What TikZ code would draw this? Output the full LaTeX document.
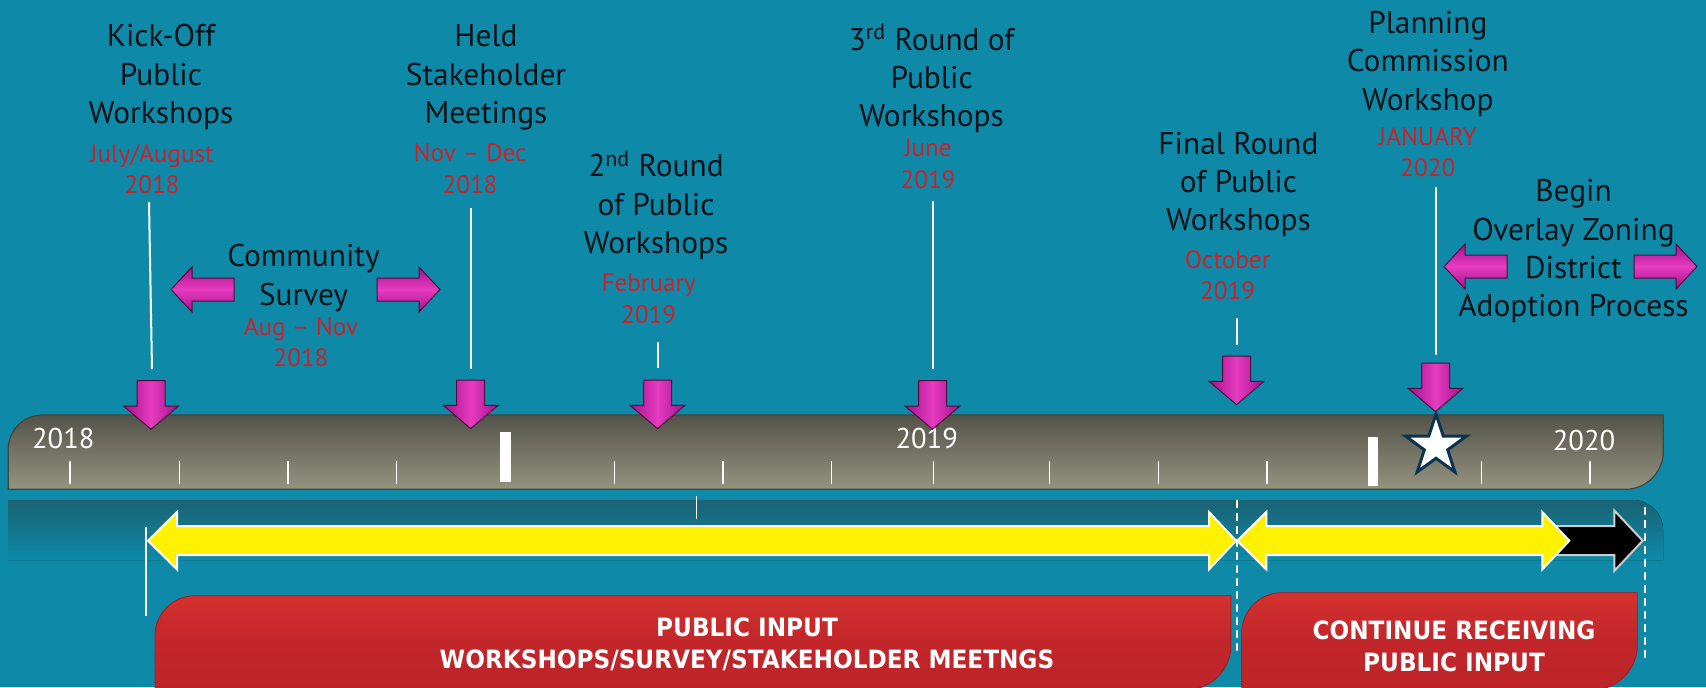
\documentclass[tikz,border=0pt]{standalone}
\usepackage{fontspec}
\setmainfont{PT Sans}
\newfontfamily\phasefont{DejaVu Sans}[FakeStretch=0.92]
\usetikzlibrary{shapes.geometric}

\definecolor{bg}{HTML}{0E8AA8}
\definecolor{titleink}{HTML}{0A1418}
\definecolor{dateink}{HTML}{C8232C}
\definecolor{barTop}{HTML}{54534A}
\definecolor{barBot}{HTML}{959480}
\definecolor{barEdge}{HTML}{44443A}
\definecolor{bandTop}{HTML}{1A6273}
\definecolor{magDark}{HTML}{A3118A}
\definecolor{magLight}{HTML}{E63CC0}
\definecolor{magEdge}{HTML}{4A0E3E}
\definecolor{phaseTop}{HTML}{D2312F}
\definecolor{phaseMid}{HTML}{C2262A}
\definecolor{phaseBot}{HTML}{BD2327}
\definecolor{phaseEdge}{HTML}{9A1E22}
\definecolor{starEdge}{HTML}{0C3350}

\newcommand{\stacked}[1]{\begin{tabular}[t]{@{}c@{}}#1\end{tabular}}
\newcommand{\spanarrow}[3][]{%
  \draw[spanarrow,#1] (#2,540.7) -- (#2+29,512) -- (#2+29,526.2) -- (#3-27,526.2) -- (#3-27,512)
    -- (#3,540.7) -- (#3-27,569.4) -- (#3-27,555.2) -- (#2+29,555.2) -- (#2+29,569.4) -- cycle;}

\begin{document}
\begin{tikzpicture}[x=0.5pt, y=-0.5pt]
    \tikzset{
        title/.style = {font=\fontsize{15.7}{19.2}\selectfont, text=titleink, anchor=base, inner sep=0pt},
        date/.style = {font=\fontsize{12.6}{15.75}\selectfont, text=dateink, anchor=base, inner sep=0pt},
        year/.style = {font=\fontsize{14.3}{17}\selectfont, text=white, anchor=base, inner sep=0pt},
        phase/.style = {font=\phasefont\bfseries\fontsize{12.6}{16.2}\selectfont, text=white, anchor=base, inner sep=0pt},
        pointer/.style = {draw=white, line width=1pt},
        minortick/.style = {draw=white, line width=0.75pt},
        divider/.style = {draw=white, line width=1pt, dash pattern=on 4pt off 2.5pt},
        magarrow/.style = {draw=magEdge, line width=0.5pt, left color=magDark, right color=magDark, middle color=magLight},
        sidearrow/.style = {draw=magEdge, line width=0.5pt, top color=magDark, bottom color=magDark, middle color=magLight},
        spanarrow/.style = {fill=yellow, draw=white, line width=1pt},
        phasebox/.style = {draw=phaseEdge, line width=0.4pt, top color=phaseTop, bottom color=phaseBot, middle color=phaseMid},
        dropmark/.pic = {\draw[magarrow] (-14,0) -- (14,0) -- (14,25.3) -- (27.5,25.3) -- (0,48.6) -- (-27.5,25.3) -- (-14,25.3) -- cycle;},
        sidemark/.pic = {\draw[sidearrow] (0,-11.5) -- (42,-11.5) -- (42,-22.5) -- (63,0) -- (42,22.5) -- (42,11.5) -- (0,11.5) -- cycle;}
    }
    \useasboundingbox (0,0) rectangle (1706,687);
    \fill[bg] (0,0) rectangle (1706,687);

    % shadow under the bar
    \fill[top color=bandTop, bottom color=bg] (8.3,500) -- (1633,500) arc[start angle=90, end angle=0, radius=15pt]
        -- (1663,560) -- (8.3,560) -- cycle;

    % timeline bar
    \draw[barEdge, line width=0.6pt, top color=barTop, bottom color=barBot] (8.3,489.3) -- (8.3,449)
        arc[start angle=180, end angle=90, radius=17pt] -- (1663.3,415) -- (1663.3,451.3)
        arc[start angle=0, end angle=-90, radius=19pt] -- cycle;
    \foreach \tx in {70,179.3,288,396.7,614.3,723,831.7,933.3,1049.7,1158.3,1267,1481.7,1590}
        \draw[minortick] (\tx,461) -- (\tx,484);
    \fill[white] (500,431.7) rectangle (511,481.7);
    \fill[white] (1367.5,436.7) rectangle (1378.3,486);
    \draw[minortick] (696.3,495.7) -- (696.3,519);

    \node[year] (y2018) at (63.3,448.3) {2018};
    \node[year] (y2019) at (926.7,448.3) {2019};
    \node[year] (y2020) at (1584,450.7) {2020};
    \node[star, star points=5, star point ratio=2.6, minimum size=32pt, inner sep=0pt,
          fill=white, draw=starEdge, line width=1.5pt] (jan) at (1436,446) {};

    % milestones
    \node[title] (kick) at (161,46.7) {\stacked{Kick-Off\\Public\\Workshops}};
    \node[date] (kickdate) at (152,162) {\stacked{July/August\\2018}};
    \node[title] (held) at (486,46.7) {\stacked{Held\\Stakeholder\\Meetings}};
    \node[date] (helddate) at (470,161.7) {\stacked{Nov – Dec\\2018}};
    \node[title] (survey) at (303.5,266.7) {\stacked{Community\\Survey}};
    \node[date] (surveydate) at (301,335) {\stacked{Aug – Nov\\2018}};
    \node[title] (second) at (656,176.7) {\stacked{2\textsuperscript{nd} Round\\of Public\\Workshops}};
    \node[date] (seconddate) at (648.7,291.7) {\stacked{February\\2019}};
    \node[title] (third) at (931.6,50) {\stacked{3\textsuperscript{rd} Round of\\Public\\Workshops}};
    \node[date] (thirddate) at (928,156.7) {\stacked{June\\2019}};
    \node[title] (final) at (1238.4,154) {\stacked{Final Round\\of Public\\Workshops}};
    \node[date] (finaldate) at (1227.6,268.3) {\stacked{October\\2019}};
    \node[title] (planning) at (1427.8,33.3) {\stacked{Planning\\Commission\\Workshop}};
    \node[date] (planningdate) at (1427.8,145) {\stacked{JANUARY\\2020}};
    \node[title] (begin) at (1573.5,201.7) {\stacked{Begin\\Overlay Zoning\\District\\Adoption Process}};

    \pic at (151,380.7) {dropmark};
    \pic at (470.7,380) {dropmark};
    \pic at (657.5,380) {dropmark};
    \pic at (932.5,380.7) {dropmark};
    \pic at (1236.5,356) {dropmark};
    \pic at (1435.5,363) {dropmark};

    \pic[xscale=-1] at (234,289.5) {sidemark};
    \pic at (377,289.5) {sidemark};
    \pic[xscale=-1] at (1507,266.5) {sidemark};
    \pic at (1634,266.5) {sidemark};

    \coordinate (kicktop) at (149,202);
    \coordinate (kickfoot) at (152,369);
    \coordinate (heldtop) at (471,208.3);
    \coordinate (heldfoot) at (471,369.3);
    \coordinate (secondtop) at (658,341.7);
    \coordinate (secondfoot) at (658,367.7);
    \coordinate (thirdtop) at (933,201);
    \coordinate (thirdfoot) at (933,369);
    \coordinate (finaltop) at (1236.5,318.3);
    \coordinate (finalfoot) at (1236.5,345);
    \coordinate (planningtop) at (1435.5,186.7);
    \coordinate (planningfoot) at (1435.5,355);
    \draw[pointer] (kicktop) -- (kickfoot);
    \draw[pointer] (heldtop) -- (heldfoot);
    \draw[pointer] (secondtop) -- (secondfoot);
    \draw[pointer] (thirdtop) -- (thirdfoot);
    \draw[pointer] (finaltop) -- (finalfoot);
    \draw[pointer] (planningtop) -- (planningfoot);

    % phases
    \coordinate (start) at (146,527);
    \coordinate (startfoot) at (146,616);
    \coordinate (split) at (1236.5,500);
    \coordinate (splitfoot) at (1236.5,653);
    \coordinate (finish) at (1645,507);
    \coordinate (finishfoot) at (1645,660);
    \draw[white, line width=0.75pt] (start) -- (startfoot);
    \draw[divider] (split) -- (splitfoot);
    \draw[divider] (finish) -- (finishfoot);

    \draw[draw=black!20, line width=1pt, fill=black] (1550,526.2) -- (1614.3,526.2) -- (1614.3,510.5)
        -- (1642.7,540.7) -- (1614.3,570.9) -- (1614.3,555.2) -- (1550,555.2) -- cycle;
    \spanarrow{148}{1236}
    \spanarrow{1237.3}{1569.3}

    \draw[phasebox] (155,690) -- (155,635.7) arc[start angle=180, end angle=90, radius=20pt]
        -- (1231,595.7) -- (1231,645) arc[start angle=0, end angle=-90, radius=22.5pt] -- cycle;
    \draw[phasebox] (1241.7,690) -- (1241.7,632.7) arc[start angle=180, end angle=90, radius=20pt]
        -- (1637.3,592.7) -- (1637.3,645) arc[start angle=0, end angle=-90, radius=22.5pt] -- cycle;
    \node[phase] (inputtext) at (747,636) {\stacked{PUBLIC INPUT\\WORKSHOPS/SURVEY/STAKEHOLDER MEETNGS}};
    \node[phase] (continuetext) at (1454,639.3) {\stacked{CONTINUE RECEIVING\\PUBLIC INPUT}};
\end{tikzpicture}
\end{document}
